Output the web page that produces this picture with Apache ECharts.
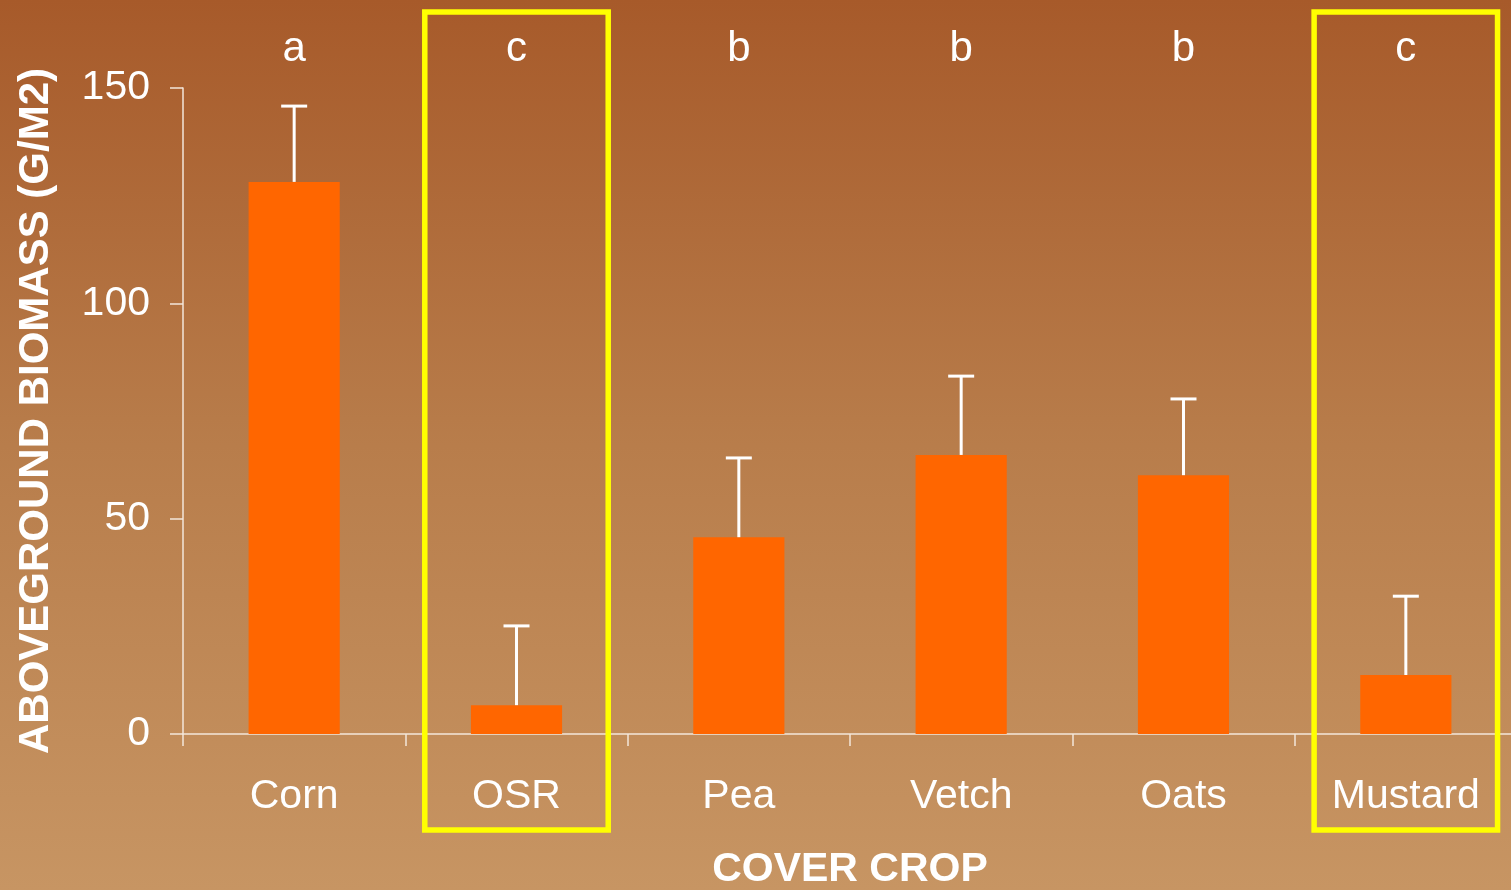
<!DOCTYPE html>
<html>
<head>
<meta charset="utf-8">
<script src="https://cdn.jsdelivr.net/npm/echarts@6/dist/echarts.min.js"></script>
<style>html,body{margin:0;padding:0;}#c{width:1511px;height:890px;}</style>
</head>
<body>
<div id="c"></div>
<script>
var categories = ['Corn', 'OSR', 'Pea', 'Vetch', 'Oats', 'Mustard'];
var biomass = [128.2, 6.7, 45.7, 64.8, 60.1, 13.7];
var errorTop = [145.8, 25.1, 64.1, 83.1, 77.8, 32.0];
var groupLetters = ['a', 'c', 'b', 'b', 'b', 'c'];
var highlighted = ['OSR', 'Mustard'];
var yTicks = { min: 0, max: 150, interval: 50 };

var FONT = '"Liberation Sans", Arial, sans-serif';
var chart = echarts.init(document.getElementById('c'));

var errData = categories.map(function (c, i) { return [i, biomass[i], errorTop[i]]; });
var letterData = categories.map(function (c, i) { return [i, yTicks.max, groupLetters[i]]; });
var boxData = highlighted.map(function (c) { return [categories.indexOf(c), 0]; });

chart.setOption({
  backgroundColor: {
    type: 'linear', x: 0, y: 0, x2: 0, y2: 1,
    colorStops: [
      { offset: 0, color: '#a75a2a' },
      { offset: 0.5, color: '#b87d4b' },
      { offset: 1, color: '#c79563' }
    ]
  },
  animation: false,
  grid: { left: 183, top: 88, width: 1334, height: 646, containLabel: false, outerBoundsMode: 'none' },
  xAxis: {
    type: 'category',
    data: categories,
    name: 'COVER CROP',
    nameLocation: 'middle',
    nameGap: 115,
    nameTextStyle: { color: '#ffffff', fontSize: 41, fontWeight: 'bold', fontFamily: FONT },
    axisLine: { lineStyle: { color: '#f3e6da', width: 1.5 } },
    axisTick: { show: true, length: 12, lineStyle: { color: '#f3e6da', width: 1.5 } },
    axisLabel: { color: '#ffffff', fontSize: 41, fontFamily: FONT, margin: 42 }
  },
  yAxis: {
    type: 'value',
    min: yTicks.min, max: yTicks.max, interval: yTicks.interval,
    name: 'ABOVEGROUND BIOMASS (G/M2)',
    nameLocation: 'middle',
    nameGap: 126,
    nameTextStyle: { color: '#ffffff', fontSize: 42, fontWeight: 'bold', fontFamily: FONT },
    splitLine: { show: false },
    axisLine: { show: true, lineStyle: { color: '#f3e6da', width: 1.5 } },
    axisTick: { show: true, length: 13, lineStyle: { color: '#f3e6da', width: 1.5 } },
    axisLabel: { color: '#ffffff', fontSize: 41, fontFamily: FONT, margin: 33 }
  },
  series: [
    {
      type: 'bar',
      data: biomass,
      barWidth: '41%',
      itemStyle: { color: '#ff6600' },
      z: 2
    },
    {
      type: 'custom',
      data: errData,
      z: 3,
      renderItem: function (params, api) {
        var x = api.coord([api.value(0), api.value(1)])[0];
        var yLow = api.coord([api.value(0), api.value(1)])[1];
        var yHigh = api.coord([api.value(0), api.value(2)])[1];
        var half = 13;
        var style = { stroke: '#ffffff', lineWidth: 3 };
        return {
          type: 'group',
          children: [
            { type: 'line', shape: { x1: x, y1: yLow, x2: x, y2: yHigh }, style: style },
            { type: 'line', shape: { x1: x - half, y1: yHigh, x2: x + half, y2: yHigh }, style: style }
          ]
        };
      }
    },
    {
      type: 'custom',
      data: letterData,
      z: 4,
      renderItem: function (params, api) {
        var p = api.coord([api.value(0), api.value(1)]);
        return {
          type: 'text',
          style: {
            x: p[0], y: p[1] - 39,
            text: groupLetters[params.dataIndex],
            fill: '#ffffff',
            font: '42px ' + FONT,
            align: 'center', verticalAlign: 'middle'
          }
        };
      }
    },
    {
      type: 'custom',
      data: boxData,
      z: 10,
      clip: false,
      renderItem: function (params, api) {
        var p = api.coord([api.value(0), 0]);
        var top = api.coord([api.value(0), yTicks.max])[1];
        var band = api.size([1, 0])[0];
        var w = band * 0.825;
        return {
          type: 'rect',
          shape: { x: p[0] - w / 2, y: top - 76, width: w, height: (p[1] + 96) - (top - 76) },
          style: { fill: 'none', stroke: '#ffff00', lineWidth: 5.5 }
        };
      }
    }
  ]
});
</script>
</body>
</html>
